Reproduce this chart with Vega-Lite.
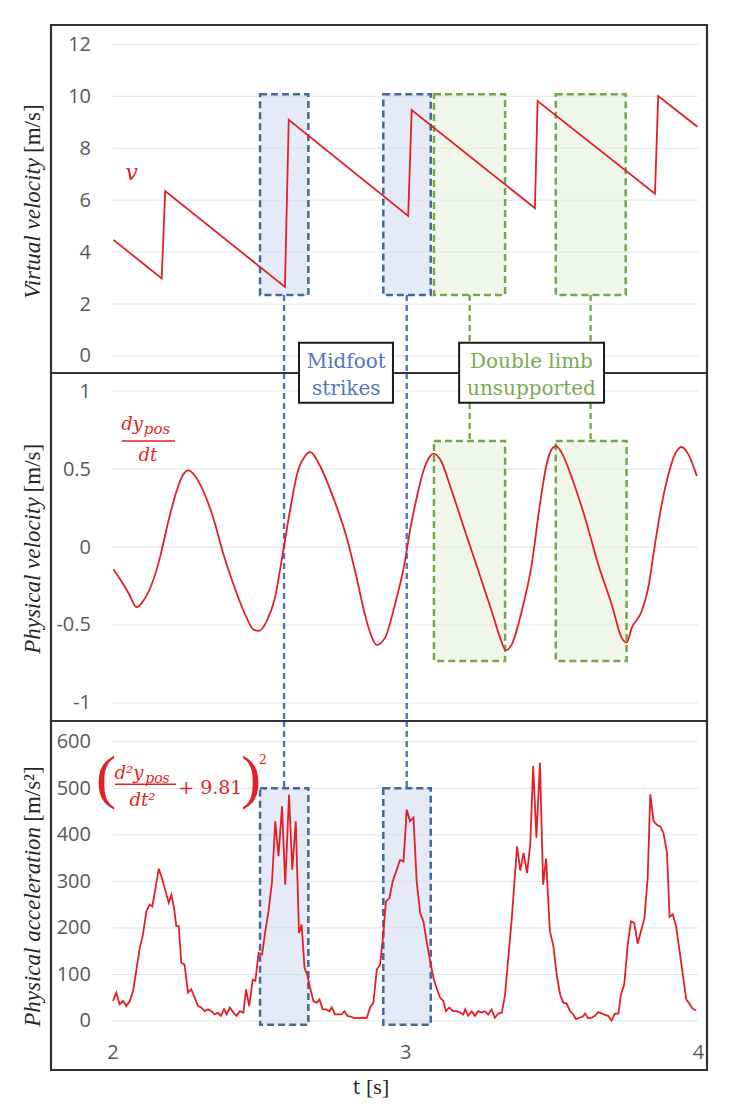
{
  "$schema": "https://vega.github.io/schema/vega-lite/v6.json",
  "background": "white",
  "padding": {"left": 22, "top": 23, "right": 22, "bottom": 10},
  "bounds": "flush",
  "spacing": 0,
  "config": {
    "view": {"stroke": null},
    "axis": {"domain": false, "ticks": false, "grid": false, "labelFont": "Open Sans", "labelFontSize": 20, "labelColor": "#595959"}
  },
  "vconcat": [
    {
      "width": 656,
      "height": 348,
      "layer": [
        {
          "data": {"values": [{"g": 0}, {"g": 2}, {"g": 4}, {"g": 6}, {"g": 8}, {"g": 10}, {"g": 12}]},
          "mark": {"type": "rule", "color": "#e4e4e4", "strokeWidth": 1},
          "encoding": {
            "x": {"datum": 2, "type": "quantitative", "scale": {"domain": [1.7899, 4.0307], "nice": false, "zero": false}, "axis": null},
            "x2": {"datum": 4},
            "y": {"field": "g", "type": "quantitative", "scale": {"domain": [-0.655, 12.745], "nice": false, "zero": false}, "axis": {"orient": "left", "tickSize": 0, "labelPadding": -39.5, "labelAlign": "right", "values": [0, 2, 4, 6, 8, 10, 12], "title": null}}
          }
        },
        {
          "data": {"values": [{"t0": 2.504, "t1": 2.669}, {"t0": 2.925, "t1": 3.087}]},
          "mark": {"type": "rect", "fill": "#cddaf0", "fillOpacity": 0.55, "stroke": "#41699a", "strokeWidth": 2.5, "strokeDash": [7, 4]},
          "encoding": {
            "x": {"field": "t0", "type": "quantitative", "scale": {"domain": [1.7899, 4.0307], "nice": false, "zero": false}, "axis": null},
            "x2": {"field": "t1"},
            "y": {"datum": 2.35, "type": "quantitative", "scale": {"domain": [-0.655, 12.745], "nice": false, "zero": false}, "axis": {"title": null}},
            "y2": {"datum": 10.08}
          }
        },
        {
          "data": {"values": [{"t0": 3.098, "t1": 3.341}, {"t0": 3.514, "t1": 3.753}]},
          "mark": {"type": "rect", "fill": "#e4f0d8", "fillOpacity": 0.55, "stroke": "#71a84a", "strokeWidth": 2.5, "strokeDash": [7, 4]},
          "encoding": {
            "x": {"field": "t0", "type": "quantitative", "scale": {"domain": [1.7899, 4.0307], "nice": false, "zero": false}, "axis": null},
            "x2": {"field": "t1"},
            "y": {"datum": 2.35, "type": "quantitative", "scale": {"domain": [-0.655, 12.745], "nice": false, "zero": false}, "axis": {"title": null}},
            "y2": {"datum": 10.08}
          }
        },
        {
          "data": {"values": [{"t": 2.586}, {"t": 3.005}]},
          "mark": {"type": "rule", "color": "#4a76c6", "strokeWidth": 2.4, "strokeDash": [6, 4]},
          "encoding": {
            "x": {"field": "t", "type": "quantitative", "scale": {"domain": [1.7899, 4.0307], "nice": false, "zero": false}, "axis": null},
            "y": {"datum": 2.35, "type": "quantitative", "scale": {"domain": [-0.655, 12.745], "nice": false, "zero": false}, "axis": {"title": null}},
            "y2": {"datum": -0.655}
          }
        },
        {
          "data": {"values": [{"t": 3.22}, {"t": 3.633}]},
          "mark": {"type": "rule", "color": "#74aa4c", "strokeWidth": 2.4, "strokeDash": [6, 4]},
          "encoding": {
            "x": {"field": "t", "type": "quantitative", "scale": {"domain": [1.7899, 4.0307], "nice": false, "zero": false}, "axis": null},
            "y": {"datum": 2.35, "type": "quantitative", "scale": {"domain": [-0.655, 12.745], "nice": false, "zero": false}, "axis": {"title": null}},
            "y2": {"datum": -0.655}
          }
        },
        {
          "data": {"values": [
            {"t": 2.003, "v": 4.47}, {"t": 2.168, "v": 2.99}, {"t": 2.180, "v": 6.35}, {"t": 2.589, "v": 2.66},
            {"t": 2.602, "v": 9.09}, {"t": 3.010, "v": 5.39}, {"t": 3.022, "v": 9.47}, {"t": 3.443, "v": 5.69},
            {"t": 3.452, "v": 9.82}, {"t": 3.853, "v": 6.25}, {"t": 3.864, "v": 10.01}, {"t": 3.998, "v": 8.83}
          ]},
          "mark": {"type": "line", "color": "#e41f26", "strokeWidth": 1.8},
          "encoding": {
            "x": {"field": "t", "type": "quantitative", "scale": {"domain": [1.7899, 4.0307], "nice": false, "zero": false}, "axis": null},
            "y": {"field": "v", "type": "quantitative", "scale": {"domain": [-0.655, 12.745], "nice": false, "zero": false}, "axis": {"title": null}}
          }
        },
        {
          "data": {"values": [{}]},
          "mark": {"type": "text", "text": "v", "font": "DejaVu Serif", "fontStyle": "italic", "fontSize": 22, "color": "#e41f26", "align": "center", "baseline": "middle"},
          "encoding": {
            "x": {"datum": 2.0656, "type": "quantitative", "scale": {"domain": [1.7899, 4.0307], "nice": false, "zero": false}, "axis": null},
            "y": {"datum": 7.06, "type": "quantitative", "scale": {"domain": [-0.655, 12.745], "nice": false, "zero": false}, "axis": {"title": null}}
          }
        },
        {
          "data": {"values": [{}]},
          "mark": {"type": "text", "text": "Virtual velocity", "font": "Liberation Serif", "fontStyle": "italic", "fontSize": 23, "color": "#262626", "angle": 270, "align": "right", "baseline": "middle"},
          "encoding": {
            "x": {"datum": 1.7295, "type": "quantitative", "scale": {"domain": [1.7899, 4.0307], "nice": false, "zero": false}, "axis": null},
            "y": {"datum": 7.624, "type": "quantitative", "scale": {"domain": [-0.655, 12.745], "nice": false, "zero": false}, "axis": {"title": null}}
          }
        },
        {
          "data": {"values": [{}]},
          "mark": {"type": "text", "text": "[m/s]", "font": "Liberation Serif", "fontSize": 23, "color": "#262626", "angle": 270, "align": "left", "baseline": "middle"},
          "encoding": {
            "x": {"datum": 1.7295, "type": "quantitative", "scale": {"domain": [1.7899, 4.0307], "nice": false, "zero": false}, "axis": null},
            "y": {"datum": 7.817, "type": "quantitative", "scale": {"domain": [-0.655, 12.745], "nice": false, "zero": false}, "axis": {"title": null}}
          }
        },
        {
          "data": {"values": [{}]},
          "mark": {"type": "rect", "filled": false, "stroke": "#333333", "strokeWidth": 2.2},
          "encoding": {
            "x": {"datum": 1.7899, "type": "quantitative", "scale": {"domain": [1.7899, 4.0307], "nice": false, "zero": false}, "axis": null},
            "x2": {"datum": 4.0307},
            "y": {"datum": -0.655, "type": "quantitative", "scale": {"domain": [-0.655, 12.745], "nice": false, "zero": false}, "axis": {"title": null}},
            "y2": {"datum": 12.745}
          }
        }
      ]
    },
    {
      "width": 656,
      "height": 348,
      "layer": [
        {
          "data": {"values": [{"g": -1}, {"g": -0.5}, {"g": 0}, {"g": 0.5}, {"g": 1}]},
          "mark": {"type": "rule", "color": "#e4e4e4", "strokeWidth": 1},
          "encoding": {
            "x": {"datum": 2, "type": "quantitative", "scale": {"domain": [1.7899, 4.0307], "nice": false, "zero": false}, "axis": null},
            "x2": {"datum": 4},
            "y": {"field": "g", "type": "quantitative", "scale": {"domain": [-1.1154, 1.1154], "nice": false, "zero": false}, "axis": {"orient": "left", "tickSize": 0, "labelPadding": -39.5, "labelAlign": "right", "values": [-1, -0.5, 0, 0.5, 1], "title": null, "labelExpr": "datum.value < 0 ? '-' + format(-datum.value, '~g') : format(datum.value, '~g')"}}
          }
        },
        {
          "data": {"values": [{"t0": 3.098, "t1": 3.341}, {"t0": 3.514, "t1": 3.756}]},
          "mark": {"type": "rect", "fill": "#e4f0d8", "fillOpacity": 0.55, "stroke": "#71a84a", "strokeWidth": 2.5, "strokeDash": [7, 4]},
          "encoding": {
            "x": {"field": "t0", "type": "quantitative", "scale": {"domain": [1.7899, 4.0307], "nice": false, "zero": false}, "axis": null},
            "x2": {"field": "t1"},
            "y": {"datum": 0.68, "type": "quantitative", "scale": {"domain": [-1.1154, 1.1154], "nice": false, "zero": false}, "axis": {"title": null}},
            "y2": {"datum": -0.73}
          }
        },
        {
          "data": {"values": [{"t": 2.586}, {"t": 3.005}]},
          "mark": {"type": "rule", "color": "#4a76c6", "strokeWidth": 2.4, "strokeDash": [6, 4]},
          "encoding": {
            "x": {"field": "t", "type": "quantitative", "scale": {"domain": [1.7899, 4.0307], "nice": false, "zero": false}, "axis": null},
            "y": {"datum": 1.1154, "type": "quantitative", "scale": {"domain": [-1.1154, 1.1154], "nice": false, "zero": false}, "axis": {"title": null}},
            "y2": {"datum": -1.1154}
          }
        },
        {
          "data": {"values": [{"t": 3.22}, {"t": 3.633}]},
          "mark": {"type": "rule", "color": "#74aa4c", "strokeWidth": 2.4, "strokeDash": [6, 4]},
          "encoding": {
            "x": {"field": "t", "type": "quantitative", "scale": {"domain": [1.7899, 4.0307], "nice": false, "zero": false}, "axis": null},
            "y": {"datum": 1.1154, "type": "quantitative", "scale": {"domain": [-1.1154, 1.1154], "nice": false, "zero": false}, "axis": {"title": null}},
            "y2": {"datum": 0.68}
          }
        },
        {
          "data": {"values": [
            {"t": 2.003, "v": -0.143}, {"t": 2.026, "v": -0.207}, {"t": 2.054, "v": -0.293}, {"t": 2.083, "v": -0.385},
            {"t": 2.105, "v": -0.346}, {"t": 2.134, "v": -0.239}, {"t": 2.162, "v": -0.068}, {"t": 2.191, "v": 0.167},
            {"t": 2.219, "v": 0.359}, {"t": 2.242, "v": 0.466}, {"t": 2.259, "v": 0.491}, {"t": 2.282, "v": 0.455},
            {"t": 2.310, "v": 0.359}, {"t": 2.344, "v": 0.188}, {"t": 2.379, "v": -0.047}, {"t": 2.413, "v": -0.239},
            {"t": 2.458, "v": -0.453}, {"t": 2.481, "v": -0.528}, {"t": 2.501, "v": -0.538}, {"t": 2.527, "v": -0.474},
            {"t": 2.555, "v": -0.325}, {"t": 2.583, "v": -0.026}, {"t": 2.606, "v": 0.231}, {"t": 2.635, "v": 0.498},
            {"t": 2.658, "v": 0.583}, {"t": 2.675, "v": 0.609}, {"t": 2.709, "v": 0.519}, {"t": 2.754, "v": 0.316},
            {"t": 2.800, "v": 0.060}, {"t": 2.834, "v": -0.197}, {"t": 2.862, "v": -0.432}, {"t": 2.882, "v": -0.560},
            {"t": 2.902, "v": -0.628}, {"t": 2.931, "v": -0.581}, {"t": 2.965, "v": -0.367}, {"t": 2.999, "v": -0.090},
            {"t": 3.016, "v": 0.103}, {"t": 3.039, "v": 0.316}, {"t": 3.062, "v": 0.487}, {"t": 3.085, "v": 0.583},
            {"t": 3.096, "v": 0.598}, {"t": 3.119, "v": 0.562}, {"t": 3.159, "v": 0.359}, {"t": 3.204, "v": 0.103},
            {"t": 3.250, "v": -0.154}, {"t": 3.295, "v": -0.410}, {"t": 3.324, "v": -0.581}, {"t": 3.343, "v": -0.662},
            {"t": 3.364, "v": -0.624}, {"t": 3.398, "v": -0.410}, {"t": 3.432, "v": -0.111}, {"t": 3.460, "v": 0.274},
            {"t": 3.483, "v": 0.530}, {"t": 3.500, "v": 0.626}, {"t": 3.515, "v": 0.647}, {"t": 3.534, "v": 0.605},
            {"t": 3.569, "v": 0.444}, {"t": 3.614, "v": 0.188}, {"t": 3.659, "v": -0.111}, {"t": 3.705, "v": -0.367},
            {"t": 3.739, "v": -0.581}, {"t": 3.756, "v": -0.613}, {"t": 3.774, "v": -0.517}, {"t": 3.808, "v": -0.410},
            {"t": 3.830, "v": -0.261}, {"t": 3.853, "v": 0.017}, {"t": 3.876, "v": 0.274}, {"t": 3.899, "v": 0.466},
            {"t": 3.921, "v": 0.594}, {"t": 3.944, "v": 0.641}, {"t": 3.967, "v": 0.594}, {"t": 3.996, "v": 0.455}
          ]},
          "mark": {"type": "line", "color": "#e41f26", "strokeWidth": 1.8, "interpolate": "monotone"},
          "encoding": {
            "x": {"field": "t", "type": "quantitative", "scale": {"domain": [1.7899, 4.0307], "nice": false, "zero": false}, "axis": null},
            "y": {"field": "v", "type": "quantitative", "scale": {"domain": [-1.1154, 1.1154], "nice": false, "zero": false}, "axis": {"title": null}}
          }
        },
        {
          "data": {"values": [{}]},
          "mark": {"type": "text", "text": "dy", "font": "DejaVu Serif", "fontStyle": "italic", "fontSize": 18, "color": "#e41f26", "align": "center", "baseline": "alphabetic"},
          "encoding": {
            "x": {"datum": 2.0666, "type": "quantitative", "scale": {"domain": [1.7899, 4.0307], "nice": false, "zero": false}, "axis": null},
            "y": {"datum": 0.75, "type": "quantitative", "scale": {"domain": [-1.1154, 1.1154], "nice": false, "zero": false}, "axis": {"title": null}}
          }
        },
        {
          "data": {"values": [{}]},
          "mark": {"type": "text", "text": "pos", "font": "DejaVu Serif", "fontStyle": "italic", "fontSize": 15, "color": "#e41f26", "align": "center", "baseline": "alphabetic"},
          "encoding": {
            "x": {"datum": 2.152, "type": "quantitative", "scale": {"domain": [1.7899, 4.0307], "nice": false, "zero": false}, "axis": null},
            "y": {"datum": 0.724, "type": "quantitative", "scale": {"domain": [-1.1154, 1.1154], "nice": false, "zero": false}, "axis": {"title": null}}
          }
        },
        {
          "data": {"values": [{}]},
          "mark": {"type": "rule", "color": "#e41f26", "strokeWidth": 1.5},
          "encoding": {
            "x": {"datum": 2.0314, "type": "quantitative", "scale": {"domain": [1.7899, 4.0307], "nice": false, "zero": false}, "axis": null},
            "x2": {"datum": 2.2135},
            "y": {"datum": 0.679, "type": "quantitative", "scale": {"domain": [-1.1154, 1.1154], "nice": false, "zero": false}, "axis": {"title": null}}
          }
        },
        {
          "data": {"values": [{}]},
          "mark": {"type": "text", "text": "dt", "font": "DejaVu Serif", "fontStyle": "italic", "fontSize": 18, "color": "#e41f26", "align": "center", "baseline": "alphabetic"},
          "encoding": {
            "x": {"datum": 2.1206, "type": "quantitative", "scale": {"domain": [1.7899, 4.0307], "nice": false, "zero": false}, "axis": null},
            "y": {"datum": 0.551, "type": "quantitative", "scale": {"domain": [-1.1154, 1.1154], "nice": false, "zero": false}, "axis": {"title": null}}
          }
        },
        {
          "data": {"values": [{}]},
          "mark": {"type": "text", "text": "Physical velocity", "font": "Liberation Serif", "fontStyle": "italic", "fontSize": 23, "color": "#262626", "angle": 270, "align": "right", "baseline": "middle"},
          "encoding": {
            "x": {"datum": 1.7295, "type": "quantitative", "scale": {"domain": [1.7899, 4.0307], "nice": false, "zero": false}, "axis": null},
            "y": {"datum": 0.318, "type": "quantitative", "scale": {"domain": [-1.1154, 1.1154], "nice": false, "zero": false}, "axis": {"title": null}}
          }
        },
        {
          "data": {"values": [{}]},
          "mark": {"type": "text", "text": "[m/s]", "font": "Liberation Serif", "fontSize": 23, "color": "#262626", "angle": 270, "align": "left", "baseline": "middle"},
          "encoding": {
            "x": {"datum": 1.7295, "type": "quantitative", "scale": {"domain": [1.7899, 4.0307], "nice": false, "zero": false}, "axis": null},
            "y": {"datum": 0.35, "type": "quantitative", "scale": {"domain": [-1.1154, 1.1154], "nice": false, "zero": false}, "axis": {"title": null}}
          }
        },
        {
          "data": {"values": [{}]},
          "mark": {"type": "rect", "filled": false, "stroke": "#333333", "strokeWidth": 2.2},
          "encoding": {
            "x": {"datum": 1.7899, "type": "quantitative", "scale": {"domain": [1.7899, 4.0307], "nice": false, "zero": false}, "axis": null},
            "x2": {"datum": 4.0307},
            "y": {"datum": -1.1154, "type": "quantitative", "scale": {"domain": [-1.1154, 1.1154], "nice": false, "zero": false}, "axis": {"title": null}},
            "y2": {"datum": 1.1154}
          }
        },
        {
          "data": {"values": [{"t0": 2.637, "t1": 2.958}, {"t0": 3.184, "t1": 3.679}]},
          "mark": {"type": "rect", "fill": "white", "stroke": "#1a1a1a", "strokeWidth": 2},
          "encoding": {
            "x": {"field": "t0", "type": "quantitative", "scale": {"domain": [1.7899, 4.0307], "nice": false, "zero": false}, "axis": null},
            "x2": {"field": "t1"},
            "y": {"datum": 1.3096, "type": "quantitative", "scale": {"domain": [-1.1154, 1.1154], "nice": false, "zero": false}, "axis": {"title": null}},
            "y2": {"datum": 0.925}
          }
        },
        {
          "data": {"values": [{}]},
          "mark": {"type": "text", "text": "Midfoot", "font": "DejaVu Serif", "fontSize": 20, "color": "#5278c0", "align": "center", "baseline": "middle"},
          "encoding": {
            "x": {"datum": 2.7985, "type": "quantitative", "scale": {"domain": [1.7899, 4.0307], "nice": false, "zero": false}, "axis": null},
            "y": {"datum": 1.186, "type": "quantitative", "scale": {"domain": [-1.1154, 1.1154], "nice": false, "zero": false}, "axis": {"title": null}}
          }
        },
        {
          "data": {"values": [{}]},
          "mark": {"type": "text", "text": "strikes", "font": "DejaVu Serif", "fontSize": 20, "color": "#5278c0", "align": "center", "baseline": "middle"},
          "encoding": {
            "x": {"datum": 2.7985, "type": "quantitative", "scale": {"domain": [1.7899, 4.0307], "nice": false, "zero": false}, "axis": null},
            "y": {"datum": 1.013, "type": "quantitative", "scale": {"domain": [-1.1154, 1.1154], "nice": false, "zero": false}, "axis": {"title": null}}
          }
        },
        {
          "data": {"values": [{}]},
          "mark": {"type": "text", "text": "Double limb", "font": "DejaVu Serif", "fontSize": 20, "color": "#78ab52", "align": "center", "baseline": "middle"},
          "encoding": {
            "x": {"datum": 3.431, "type": "quantitative", "scale": {"domain": [1.7899, 4.0307], "nice": false, "zero": false}, "axis": null},
            "y": {"datum": 1.186, "type": "quantitative", "scale": {"domain": [-1.1154, 1.1154], "nice": false, "zero": false}, "axis": {"title": null}}
          }
        },
        {
          "data": {"values": [{}]},
          "mark": {"type": "text", "text": "unsupported", "font": "DejaVu Serif", "fontSize": 20, "color": "#78ab52", "align": "center", "baseline": "middle"},
          "encoding": {
            "x": {"datum": 3.431, "type": "quantitative", "scale": {"domain": [1.7899, 4.0307], "nice": false, "zero": false}, "axis": null},
            "y": {"datum": 1.013, "type": "quantitative", "scale": {"domain": [-1.1154, 1.1154], "nice": false, "zero": false}, "axis": {"title": null}}
          }
        }
      ]
    },
    {
      "width": 656,
      "height": 349,
      "layer": [
        {
          "data": {"values": [{"g": 0}, {"g": 100}, {"g": 200}, {"g": 300}, {"g": 400}, {"g": 500}, {"g": 600}]},
          "mark": {"type": "rule", "color": "#e4e4e4", "strokeWidth": 1},
          "encoding": {
            "x": {"datum": 2, "type": "quantitative", "scale": {"domain": [1.7899, 4.0307], "nice": false, "zero": false}, "axis": {"title": null}},
            "x2": {"datum": 4},
            "y": {"field": "g", "type": "quantitative", "scale": {"domain": [-105.3, 644.5], "nice": false, "zero": false}, "axis": {"orient": "left", "tickSize": 0, "labelPadding": -39.5, "labelAlign": "right", "values": [0, 100, 200, 300, 400, 500, 600], "title": null}}
          }
        },
        {
          "data": {"values": [{"t0": 2.504, "t1": 2.669}, {"t0": 2.925, "t1": 3.087}]},
          "mark": {"type": "rect", "fill": "#cddaf0", "fillOpacity": 0.55, "stroke": "#41699a", "strokeWidth": 2.5, "strokeDash": [7, 4]},
          "encoding": {
            "x": {"field": "t0", "type": "quantitative", "scale": {"domain": [1.7899, 4.0307], "nice": false, "zero": false}, "axis": {"title": null}},
            "x2": {"field": "t1"},
            "y": {"datum": -8, "type": "quantitative", "scale": {"domain": [-105.3, 644.5], "nice": false, "zero": false}, "axis": {"title": null}},
            "y2": {"datum": 500}
          }
        },
        {
          "data": {"values": [{"t": 2.586}, {"t": 3.005}]},
          "mark": {"type": "rule", "color": "#4a76c6", "strokeWidth": 2.4, "strokeDash": [6, 4]},
          "encoding": {
            "x": {"field": "t", "type": "quantitative", "scale": {"domain": [1.7899, 4.0307], "nice": false, "zero": false}, "axis": {"title": null}},
            "y": {"datum": 644.5, "type": "quantitative", "scale": {"domain": [-105.3, 644.5], "nice": false, "zero": false}, "axis": {"title": null}},
            "y2": {"datum": 500}
          }
        },
        {
          "data": {"values": [
            {"t": 2.002, "a": 43}, {"t": 2.013, "a": 61}, {"t": 2.024, "a": 36}, {"t": 2.036, "a": 43}, {"t": 2.047, "a": 32},
            {"t": 2.059, "a": 43}, {"t": 2.070, "a": 64}, {"t": 2.081, "a": 107}, {"t": 2.093, "a": 157}, {"t": 2.104, "a": 186},
            {"t": 2.116, "a": 236}, {"t": 2.127, "a": 250}, {"t": 2.136, "a": 246}, {"t": 2.147, "a": 286}, {"t": 2.158, "a": 327},
            {"t": 2.169, "a": 307}, {"t": 2.181, "a": 279}, {"t": 2.192, "a": 254}, {"t": 2.201, "a": 271}, {"t": 2.210, "a": 243},
            {"t": 2.218, "a": 204}, {"t": 2.226, "a": 204}, {"t": 2.235, "a": 125}, {"t": 2.246, "a": 121}, {"t": 2.258, "a": 61},
            {"t": 2.269, "a": 68}, {"t": 2.281, "a": 50}, {"t": 2.292, "a": 32}, {"t": 2.303, "a": 29}, {"t": 2.315, "a": 21},
            {"t": 2.326, "a": 25}, {"t": 2.338, "a": 21}, {"t": 2.349, "a": 14}, {"t": 2.360, "a": 18}, {"t": 2.370, "a": 11},
            {"t": 2.381, "a": 25}, {"t": 2.390, "a": 14}, {"t": 2.401, "a": 29}, {"t": 2.413, "a": 18}, {"t": 2.424, "a": 11},
            {"t": 2.435, "a": 21}, {"t": 2.447, "a": 18}, {"t": 2.456, "a": 68}, {"t": 2.467, "a": 32}, {"t": 2.479, "a": 89},
            {"t": 2.488, "a": 86}, {"t": 2.499, "a": 146}, {"t": 2.511, "a": 143}, {"t": 2.522, "a": 193}, {"t": 2.533, "a": 236},
            {"t": 2.545, "a": 300}, {"t": 2.556, "a": 429}, {"t": 2.567, "a": 354}, {"t": 2.579, "a": 461}, {"t": 2.590, "a": 293},
            {"t": 2.603, "a": 486}, {"t": 2.614, "a": 325}, {"t": 2.626, "a": 429}, {"t": 2.637, "a": 189}, {"t": 2.646, "a": 207},
            {"t": 2.656, "a": 114}, {"t": 2.665, "a": 100}, {"t": 2.675, "a": 71}, {"t": 2.686, "a": 43}, {"t": 2.697, "a": 39},
            {"t": 2.707, "a": 46}, {"t": 2.718, "a": 25}, {"t": 2.730, "a": 25}, {"t": 2.741, "a": 21}, {"t": 2.749, "a": 29},
            {"t": 2.760, "a": 14}, {"t": 2.772, "a": 14}, {"t": 2.783, "a": 14}, {"t": 2.792, "a": 21}, {"t": 2.803, "a": 11},
            {"t": 2.815, "a": 9}, {"t": 2.826, "a": 6}, {"t": 2.840, "a": 6}, {"t": 2.857, "a": 7}, {"t": 2.868, "a": 6},
            {"t": 2.880, "a": 29}, {"t": 2.891, "a": 39}, {"t": 2.903, "a": 111}, {"t": 2.914, "a": 121}, {"t": 2.925, "a": 186},
            {"t": 2.934, "a": 257}, {"t": 2.946, "a": 264}, {"t": 2.957, "a": 300}, {"t": 2.971, "a": 325}, {"t": 2.982, "a": 346},
            {"t": 2.994, "a": 343}, {"t": 3.005, "a": 454}, {"t": 3.016, "a": 429}, {"t": 3.028, "a": 437}, {"t": 3.039, "a": 300},
            {"t": 3.051, "a": 232}, {"t": 3.062, "a": 214}, {"t": 3.073, "a": 171}, {"t": 3.085, "a": 129}, {"t": 3.096, "a": 93},
            {"t": 3.107, "a": 71}, {"t": 3.119, "a": 50}, {"t": 3.130, "a": 43}, {"t": 3.139, "a": 21}, {"t": 3.150, "a": 29},
            {"t": 3.162, "a": 21}, {"t": 3.175, "a": 21}, {"t": 3.187, "a": 18}, {"t": 3.198, "a": 14}, {"t": 3.205, "a": 25},
            {"t": 3.215, "a": 11}, {"t": 3.227, "a": 21}, {"t": 3.238, "a": 11}, {"t": 3.249, "a": 21}, {"t": 3.261, "a": 18},
            {"t": 3.272, "a": 21}, {"t": 3.283, "a": 14}, {"t": 3.295, "a": 25}, {"t": 3.306, "a": 7}, {"t": 3.318, "a": 16},
            {"t": 3.330, "a": 18}, {"t": 3.341, "a": 57}, {"t": 3.352, "a": 136}, {"t": 3.364, "a": 221}, {"t": 3.373, "a": 300},
            {"t": 3.382, "a": 375}, {"t": 3.393, "a": 323}, {"t": 3.404, "a": 361}, {"t": 3.416, "a": 318}, {"t": 3.427, "a": 379},
            {"t": 3.437, "a": 548}, {"t": 3.448, "a": 394}, {"t": 3.460, "a": 555}, {"t": 3.471, "a": 293}, {"t": 3.481, "a": 349},
            {"t": 3.494, "a": 193}, {"t": 3.506, "a": 161}, {"t": 3.517, "a": 100}, {"t": 3.529, "a": 57}, {"t": 3.540, "a": 39},
            {"t": 3.551, "a": 38}, {"t": 3.563, "a": 21}, {"t": 3.574, "a": 14}, {"t": 3.583, "a": 4}, {"t": 3.595, "a": 7},
            {"t": 3.606, "a": 9}, {"t": 3.614, "a": 16}, {"t": 3.625, "a": 6}, {"t": 3.637, "a": 7}, {"t": 3.648, "a": 11},
            {"t": 3.659, "a": 19}, {"t": 3.671, "a": 16}, {"t": 3.682, "a": 13}, {"t": 3.693, "a": 11}, {"t": 3.705, "a": 1},
            {"t": 3.716, "a": 16}, {"t": 3.728, "a": 16}, {"t": 3.737, "a": 57}, {"t": 3.748, "a": 79}, {"t": 3.760, "a": 164},
            {"t": 3.771, "a": 214}, {"t": 3.782, "a": 211}, {"t": 3.794, "a": 166}, {"t": 3.805, "a": 193}, {"t": 3.817, "a": 221},
            {"t": 3.828, "a": 307}, {"t": 3.837, "a": 487}, {"t": 3.848, "a": 430}, {"t": 3.860, "a": 421}, {"t": 3.871, "a": 418},
            {"t": 3.882, "a": 404}, {"t": 3.894, "a": 361}, {"t": 3.903, "a": 224}, {"t": 3.914, "a": 229}, {"t": 3.925, "a": 204},
            {"t": 3.937, "a": 150}, {"t": 3.948, "a": 100}, {"t": 3.960, "a": 46}, {"t": 3.971, "a": 37}, {"t": 3.982, "a": 26},
            {"t": 3.994, "a": 23}
          ]},
          "mark": {"type": "line", "color": "#e41f26", "strokeWidth": 1.8},
          "encoding": {
            "x": {"field": "t", "type": "quantitative", "scale": {"domain": [1.7899, 4.0307], "nice": false, "zero": false}, "axis": {"orient": "bottom", "tickSize": 0, "labelPadding": -28, "values": [2, 3, 4], "format": "d", "title": null, "labelFlush": false}},
            "y": {"field": "a", "type": "quantitative", "scale": {"domain": [-105.3, 644.5], "nice": false, "zero": false}, "axis": {"title": null}}
          }
        },
        {
          "data": {"values": [{}]},
          "mark": {"type": "text", "text": "(", "font": "Liberation Serif", "fontSize": 60, "color": "#e41f26", "align": "center", "baseline": "middle"},
          "encoding": {
            "x": {"datum": 1.9778, "type": "quantitative", "scale": {"domain": [1.7899, 4.0307], "nice": false, "zero": false}, "axis": {"title": null}},
            "y": {"datum": 519, "type": "quantitative", "scale": {"domain": [-105.3, 644.5], "nice": false, "zero": false}, "axis": {"title": null}}
          }
        },
        {
          "data": {"values": [{}]},
          "mark": {"type": "text", "text": ")", "font": "Liberation Serif", "fontSize": 60, "color": "#e41f26", "align": "center", "baseline": "middle"},
          "encoding": {
            "x": {"datum": 2.4731, "type": "quantitative", "scale": {"domain": [1.7899, 4.0307], "nice": false, "zero": false}, "axis": {"title": null}},
            "y": {"datum": 519, "type": "quantitative", "scale": {"domain": [-105.3, 644.5], "nice": false, "zero": false}, "axis": {"title": null}}
          }
        },
        {
          "data": {"values": [{}]},
          "mark": {"type": "text", "text": "d²y", "font": "DejaVu Serif", "fontStyle": "italic", "fontSize": 18, "color": "#e41f26", "align": "center", "baseline": "alphabetic"},
          "encoding": {
            "x": {"datum": 2.0564, "type": "quantitative", "scale": {"domain": [1.7899, 4.0307], "nice": false, "zero": false}, "axis": {"title": null}},
            "y": {"datum": 519.2, "type": "quantitative", "scale": {"domain": [-105.3, 644.5], "nice": false, "zero": false}, "axis": {"title": null}}
          }
        },
        {
          "data": {"values": [{}]},
          "mark": {"type": "text", "text": "pos", "font": "DejaVu Serif", "fontStyle": "italic", "fontSize": 14, "color": "#e41f26", "align": "center", "baseline": "alphabetic"},
          "encoding": {
            "x": {"datum": 2.1537, "type": "quantitative", "scale": {"domain": [1.7899, 4.0307], "nice": false, "zero": false}, "axis": {"title": null}},
            "y": {"datum": 511.3, "type": "quantitative", "scale": {"domain": [-105.3, 644.5], "nice": false, "zero": false}, "axis": {"title": null}}
          }
        },
        {
          "data": {"values": [{}]},
          "mark": {"type": "rule", "color": "#e41f26", "strokeWidth": 1.5},
          "encoding": {
            "x": {"datum": 2.0085, "type": "quantitative", "scale": {"domain": [1.7899, 4.0307], "nice": false, "zero": false}, "axis": {"title": null}},
            "x2": {"datum": 2.2169},
            "y": {"datum": 508.5, "type": "quantitative", "scale": {"domain": [-105.3, 644.5], "nice": false, "zero": false}, "axis": {"title": null}}
          }
        },
        {
          "data": {"values": [{}]},
          "mark": {"type": "text", "text": "dt²", "font": "DejaVu Serif", "fontStyle": "italic", "fontSize": 18, "color": "#e41f26", "align": "center", "baseline": "alphabetic"},
          "encoding": {
            "x": {"datum": 2.1025, "type": "quantitative", "scale": {"domain": [1.7899, 4.0307], "nice": false, "zero": false}, "axis": {"title": null}},
            "y": {"datum": 461.9, "type": "quantitative", "scale": {"domain": [-105.3, 644.5], "nice": false, "zero": false}, "axis": {"title": null}}
          }
        },
        {
          "data": {"values": [{}]},
          "mark": {"type": "text", "text": "+ 9.81", "font": "DejaVu Serif", "fontSize": 19, "color": "#e41f26", "align": "center", "baseline": "alphabetic"},
          "encoding": {
            "x": {"datum": 2.3341, "type": "quantitative", "scale": {"domain": [1.7899, 4.0307], "nice": false, "zero": false}, "axis": {"title": null}},
            "y": {"datum": 487, "type": "quantitative", "scale": {"domain": [-105.3, 644.5], "nice": false, "zero": false}, "axis": {"title": null}}
          }
        },
        {
          "data": {"values": [{}]},
          "mark": {"type": "text", "text": "2", "font": "DejaVu Serif", "fontSize": 13, "color": "#e41f26", "align": "center", "baseline": "alphabetic"},
          "encoding": {
            "x": {"datum": 2.5141, "type": "quantitative", "scale": {"domain": [1.7899, 4.0307], "nice": false, "zero": false}, "axis": {"title": null}},
            "y": {"datum": 552.1, "type": "quantitative", "scale": {"domain": [-105.3, 644.5], "nice": false, "zero": false}, "axis": {"title": null}}
          }
        },
        {
          "data": {"values": [{}]},
          "mark": {"type": "text", "text": "Physical acceleration", "font": "Liberation Serif", "fontStyle": "italic", "fontSize": 23, "color": "#262626", "angle": 270, "align": "right", "baseline": "middle"},
          "encoding": {
            "x": {"datum": 1.7295, "type": "quantitative", "scale": {"domain": [1.7899, 4.0307], "nice": false, "zero": false}, "axis": {"title": null}},
            "y": {"datum": 417, "type": "quantitative", "scale": {"domain": [-105.3, 644.5], "nice": false, "zero": false}, "axis": {"title": null}}
          }
        },
        {
          "data": {"values": [{}]},
          "mark": {"type": "text", "text": "[m/s²]", "font": "Liberation Serif", "fontSize": 23, "color": "#262626", "angle": 270, "align": "left", "baseline": "middle"},
          "encoding": {
            "x": {"datum": 1.7295, "type": "quantitative", "scale": {"domain": [1.7899, 4.0307], "nice": false, "zero": false}, "axis": {"title": null}},
            "y": {"datum": 428, "type": "quantitative", "scale": {"domain": [-105.3, 644.5], "nice": false, "zero": false}, "axis": {"title": null}}
          }
        },
        {
          "data": {"values": [{}]},
          "mark": {"type": "text", "text": "t", "font": "Open Sans", "fontSize": 20, "color": "#262626", "align": "right", "baseline": "alphabetic"},
          "encoding": {
            "x": {"datum": 2.8463, "type": "quantitative", "scale": {"domain": [1.7899, 4.0307], "nice": false, "zero": false}, "axis": {"title": null}},
            "y": {"datum": -156.8, "type": "quantitative", "scale": {"domain": [-105.3, 644.5], "nice": false, "zero": false}, "axis": {"title": null}}
          }
        },
        {
          "data": {"values": [{}]},
          "mark": {"type": "text", "text": "[s]", "font": "Liberation Serif", "fontSize": 22, "color": "#262626", "align": "left", "baseline": "alphabetic"},
          "encoding": {
            "x": {"datum": 2.866, "type": "quantitative", "scale": {"domain": [1.7899, 4.0307], "nice": false, "zero": false}, "axis": {"title": null}},
            "y": {"datum": -156.8, "type": "quantitative", "scale": {"domain": [-105.3, 644.5], "nice": false, "zero": false}, "axis": {"title": null}}
          }
        },
        {
          "data": {"values": [{}]},
          "mark": {"type": "rect", "filled": false, "stroke": "#333333", "strokeWidth": 2.2},
          "encoding": {
            "x": {"datum": 1.7899, "type": "quantitative", "scale": {"domain": [1.7899, 4.0307], "nice": false, "zero": false}, "axis": {"title": null}},
            "x2": {"datum": 4.0307},
            "y": {"datum": -105.3, "type": "quantitative", "scale": {"domain": [-105.3, 644.5], "nice": false, "zero": false}, "axis": {"title": null}},
            "y2": {"datum": 644.5}
          }
        }
      ]
    }
  ]
}
